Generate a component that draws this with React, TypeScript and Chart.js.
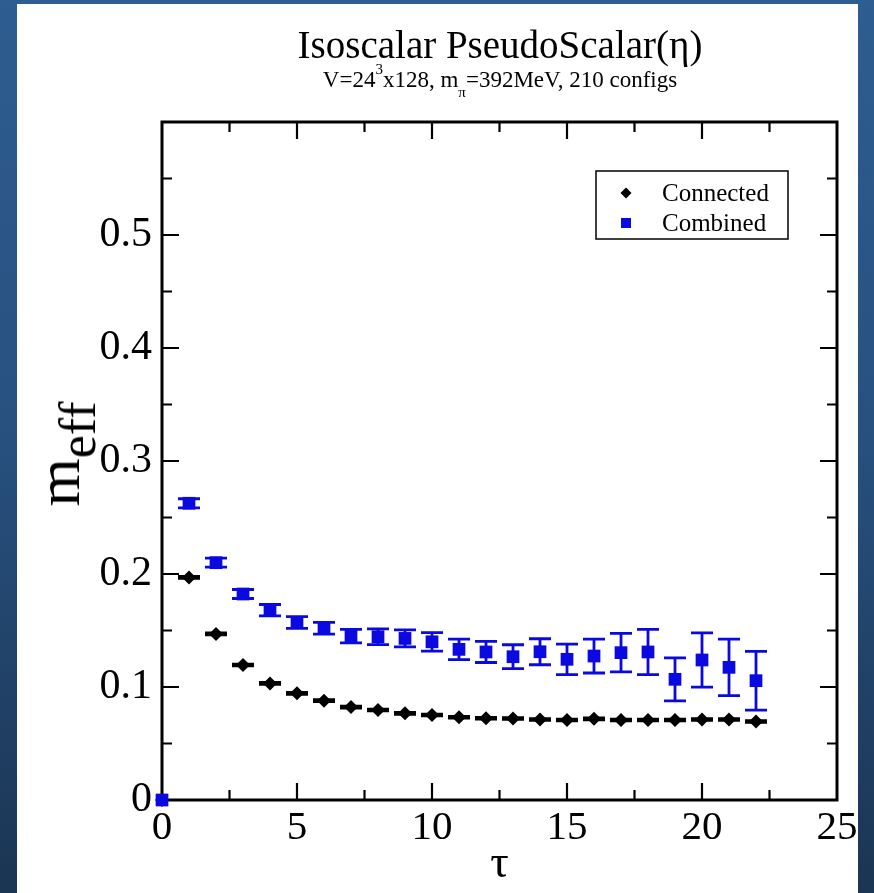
import React, { useEffect, useRef } from "react";
import { Chart, registerables } from "chart.js";

Chart.register(...registerables);

// Euclidean time slices
const tau = [0, 1, 2, 3, 4, 5, 6, 7, 8, 9, 10, 11, 12, 13, 14, 15, 16, 17, 18, 19, 20, 21, 22];

// Effective mass, connected diagrams only
const connected = [
  0, 0.197, 0.147, 0.1195, 0.1032, 0.0944, 0.0879, 0.0822, 0.0796, 0.0767, 0.0752, 0.0732,
  0.0723, 0.0721, 0.0712, 0.0708, 0.0718, 0.0708, 0.0708, 0.0708, 0.0712, 0.0712, 0.0695,
];
const connectedErr = [
  0, 0.0009, 0.0009, 0.0008, 0.0008, 0.0008, 0.0008, 0.0008, 0.0008, 0.0008, 0.0008, 0.0008,
  0.0008, 0.0008, 0.0008, 0.0008, 0.0008, 0.0008, 0.0008, 0.0008, 0.0008, 0.0008, 0.0008,
];

// Effective mass, connected + disconnected
const combined = [
  0, 0.2626, 0.21, 0.1823, 0.168, 0.157, 0.152, 0.145, 0.1445, 0.143, 0.14, 0.1333, 0.131,
  0.1268, 0.1312, 0.1245, 0.1274, 0.1304, 0.131, 0.1068, 0.1239, 0.1174, 0.1056,
];
const combinedErr = [
  0, 0.004, 0.004, 0.004, 0.005, 0.0052, 0.0052, 0.006, 0.007, 0.0075, 0.0082, 0.009, 0.0093,
  0.0106, 0.0115, 0.0135, 0.015, 0.017, 0.02, 0.019, 0.024, 0.025, 0.026,
];

const xTicks = [0, 5, 10, 15, 20, 25];
const yTicks = [0, 0.1, 0.2, 0.3, 0.4, 0.5, 0.6];

const SERIF = '"Liberation Serif", "Times New Roman", serif';
const BLUE = "#0a0ae0";

// midpoints between major ticks, used for the short inner ticks
const midpoints = (arr: number[]) => arr.slice(1).map((v, i) => (v + arr[i]) / 2);

// Closed frame with inward ticks on all four sides
const framePlugin = {
  id: "frame",
  beforeDatasetsDraw(chart: any) {
    const { ctx, chartArea: a, scales } = chart;
    const xs = scales.x;
    const ys = scales.y;
    const major = 17;
    const minor = 10;
    ctx.save();
    ctx.strokeStyle = "#000";
    ctx.lineWidth = 2.2;
    ctx.beginPath();
    const xm = xTicks.filter((v) => v > xs.min && v < xs.max);
    const xn = midpoints(xTicks);
    xm.forEach((v) => {
      const px = xs.getPixelForValue(v);
      ctx.moveTo(px, a.bottom);
      ctx.lineTo(px, a.bottom - major);
      ctx.moveTo(px, a.top);
      ctx.lineTo(px, a.top + major);
    });
    xn.forEach((v) => {
      const px = xs.getPixelForValue(v);
      ctx.moveTo(px, a.bottom);
      ctx.lineTo(px, a.bottom - minor);
      ctx.moveTo(px, a.top);
      ctx.lineTo(px, a.top + minor);
    });
    const ym = yTicks.filter((v) => v > ys.min && v < ys.max);
    const yn = midpoints(yTicks);
    ym.forEach((v) => {
      const py = ys.getPixelForValue(v);
      ctx.moveTo(a.left, py);
      ctx.lineTo(a.left + major, py);
      ctx.moveTo(a.right, py);
      ctx.lineTo(a.right - major, py);
    });
    yn.forEach((v) => {
      const py = ys.getPixelForValue(v);
      ctx.moveTo(a.left, py);
      ctx.lineTo(a.left + minor, py);
      ctx.moveTo(a.right, py);
      ctx.lineTo(a.right - minor, py);
    });
    ctx.stroke();
    ctx.lineWidth = 3;
    ctx.strokeRect(a.left, a.top, a.right - a.left, a.bottom - a.top);
    ctx.restore();
  },
};

// Vertical error bars with caps, drawn beneath the markers
const errorBarPlugin = {
  id: "errorBars",
  beforeDatasetsDraw(chart: any) {
    const { ctx, scales } = chart;
    const xs = scales.x;
    const ys = scales.y;
    ctx.save();
    chart.data.datasets.forEach((ds: any) => {
      const errs: number[] = ds.errorBars || [];
      ctx.strokeStyle = ds.borderColor;
      ds.data.forEach((p: any, i: number) => {
        const e = errs[i];
        if (!e) return;
        const px = xs.getPixelForValue(p.x);
        const hi = ys.getPixelForValue(p.y + e);
        const lo = ys.getPixelForValue(p.y - e);
        const half = 11;
        ctx.lineWidth = 2.8;
        ctx.beginPath();
        ctx.moveTo(px, hi);
        ctx.lineTo(px, lo);
        ctx.moveTo(px - half, hi);
        ctx.lineTo(px + half, hi);
        ctx.moveTo(px - half, lo);
        ctx.lineTo(px + half, lo);
        ctx.stroke();
      });
    });
    ctx.restore();
  },
};

// Boxed legend in the upper right of the plot
const legendPlugin = {
  id: "boxLegend",
  afterDatasetsDraw(chart: any) {
    const { ctx, chartArea: a } = chart;
    const w = 192;
    const h = 68;
    const left = a.right - 49 - w;
    const top = a.top + 49;
    ctx.save();
    ctx.fillStyle = "#fff";
    ctx.fillRect(left, top, w, h);
    ctx.strokeStyle = "#000";
    ctx.lineWidth = 1.5;
    ctx.strokeRect(left, top, w, h);
    ctx.font = `25px ${SERIF}`;
    ctx.textBaseline = "middle";
    ctx.textAlign = "left";
    chart.data.datasets.forEach((ds: any, i: number) => {
      const y = top + 22 + i * 30;
      const x = left + 30;
      ctx.fillStyle = ds.backgroundColor;
      ctx.beginPath();
      if (ds.pointStyle === "rectRot") {
        const r = 5.5;
        ctx.moveTo(x, y - r);
        ctx.lineTo(x + r, y);
        ctx.lineTo(x, y + r);
        ctx.lineTo(x - r, y);
        ctx.closePath();
      } else {
        ctx.rect(x - 5, y - 5, 10, 10);
      }
      ctx.fill();
      ctx.fillStyle = "#000";
      ctx.fillText(ds.label, left + 66, y + 1);
    });
    ctx.restore();
  },
};

export default function App() {
  const canvasRef = useRef<HTMLCanvasElement | null>(null);

  useEffect(() => {
    if (!canvasRef.current) return;
    const chart = new Chart(canvasRef.current, {
      type: "scatter",
      data: {
        datasets: [
          {
            label: "Connected",
            data: tau.map((t, i) => ({ x: t, y: connected[i] })),
            errorBars: connectedErr,
            pointStyle: "rectRot",
            pointRadius: 7,
            pointHoverRadius: 7,
            backgroundColor: "#000",
            borderColor: "#000",
            borderWidth: 0,
            order: 1,
            clip: false,
          } as any,
          {
            label: "Combined",
            data: tau.map((t, i) => ({ x: t, y: combined[i] })),
            errorBars: combinedErr,
            pointStyle: "rect",
            pointRadius: 9,
            pointHoverRadius: 9,
            backgroundColor: BLUE,
            borderColor: BLUE,
            borderWidth: 0,
            order: 0,
            clip: false,
          } as any,
        ],
      },
      options: {
        responsive: false,
        maintainAspectRatio: false,
        animation: false,
        events: [],
        layout: { padding: { top: 122, right: 37, left: 0, bottom: 0 } },
        plugins: {
          legend: { display: false },
          tooltip: { enabled: false },
          title: { display: false },
        },
        scales: {
          x: {
            type: "linear",
            min: 0,
            max: 25,
            grid: { display: false, drawTicks: false },
            border: { display: false },
            afterBuildTicks: (s: any) => {
              s.ticks = xTicks.map((value) => ({ value }));
            },
            afterFit: (s: any) => {
              s.height = 93;
            },
            ticks: {
              autoSkip: false,
              maxRotation: 0,
              padding: 4,
              color: "#000",
              font: { family: SERIF, size: 41 },
              callback: (v: any) => String(v),
            },
            title: {
              display: true,
              text: "τ",
              color: "#000",
              font: { family: SERIF, size: 46 },
              padding: { top: 0, bottom: 0 },
            },
          },
          y: {
            type: "linear",
            min: 0,
            max: 0.6,
            grid: { display: false, drawTicks: false },
            border: { display: false },
            afterBuildTicks: (s: any) => {
              s.ticks = yTicks.filter((v) => v < 0.55).map((value) => ({ value }));
            },
            afterFit: (s: any) => {
              s.width = 162;
            },
            ticks: {
              autoSkip: false,
              padding: 10,
              color: "#000",
              font: { family: SERIF, size: 42 },
              callback: (v: any) => (Number(v) === 0 ? "0" : Number(v).toFixed(1)),
            },
          },
        },
      },
      plugins: [framePlugin, errorBarPlugin, legendPlugin],
    });
    return () => chart.destroy();
  }, []);

  return (
    <div
      style={{
        position: "absolute",
        left: 0,
        top: 0,
        width: 874,
        height: 893,
        overflow: "hidden",
        background: "linear-gradient(180deg, #2e5d91 0%, #27507e 50%, #1b3553 100%)",
        fontFamily: SERIF,
        color: "#000",
      }}
    >
      <div
        style={{
          position: "absolute",
          left: 17,
          top: 4,
          width: 841,
          height: 889,
          background: "#fff",
        }}
      />
      <canvas
        ref={canvasRef}
        width={874}
        height={893}
        style={{ position: "absolute", left: 0, top: 0, width: 874, height: 893 }}
      />
      <div
        style={{
          position: "absolute",
          left: 162,
          width: 676,
          top: 24,
          textAlign: "center",
          fontSize: 39,
          lineHeight: "42px",
          whiteSpace: "nowrap",
        }}
      >
        Isoscalar PseudoScalar(η)
      </div>
      <div
        style={{
          position: "absolute",
          left: 162,
          width: 676,
          top: 67,
          textAlign: "center",
          fontSize: 23,
          lineHeight: "26px",
          whiteSpace: "nowrap",
        }}
      >
        V=24
        <span style={{ position: "relative", top: -13, fontSize: 15, lineHeight: 0 }}>3</span>
        x128, m
        <span style={{ position: "relative", top: 10, fontSize: 15, lineHeight: 0 }}>π</span>
        =392MeV, 210 configs
      </div>
      <div
        style={{
          position: "absolute",
          left: 58,
          top: 454,
          transform: "translate(-50%, -50%) rotate(-90deg)",
          fontSize: 62,
          lineHeight: 1,
          whiteSpace: "nowrap",
        }}
      >
        m
        <span style={{ position: "relative", top: 16, fontSize: 52, lineHeight: 0 }}>eff</span>
      </div>
    </div>
  );
}
